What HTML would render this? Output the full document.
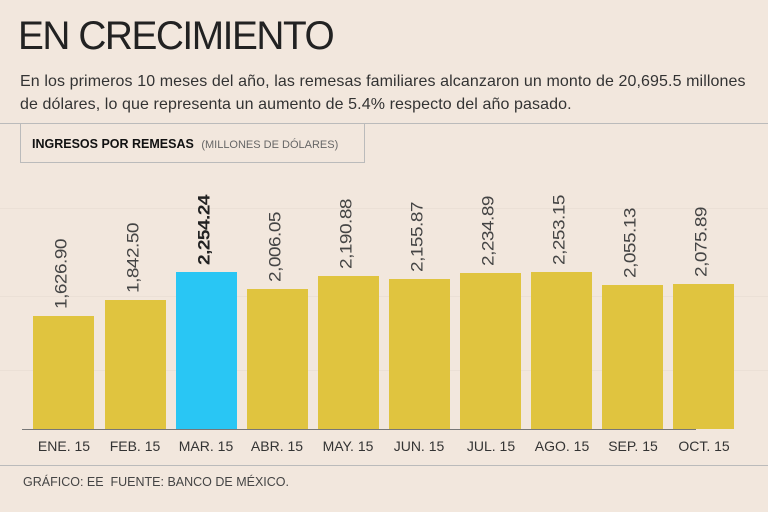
<!DOCTYPE html>
<html><head><meta charset="utf-8"><style>
body{margin:0;width:768px;height:512px;background:#f2e7dd;font-family:"Liberation Sans",sans-serif;overflow:hidden;position:relative}
.t{position:absolute;white-space:nowrap}
.bar{position:absolute;background:#e0c43f;width:61px}
.v{position:absolute;transform:rotate(-90deg) scaleY(0.85);transform-origin:left top;font-size:19px;color:#444;white-space:nowrap;letter-spacing:-0.5px}
.m{position:absolute;top:438px;font-size:14px;color:#333;width:72px;text-align:center}
.g{position:absolute;left:0;width:768px;height:1px;background:#ebe0d6}
</style></head><body>
<div class="t" style="left:18px;top:14px;font-size:40px;color:#222;letter-spacing:-1.5px;transform:scaleX(0.97);transform-origin:left top">EN CRECIMIENTO</div>
<div class="t" style="left:20px;top:70px;font-size:16px;color:#333;line-height:23px;letter-spacing:0.1px">En los primeros 10 meses del año, las remesas familiares alcanzaron un monto de 20,695.5 millones<br>de dólares, lo que representa un aumento de 5.4% respecto del año pasado.</div>
<div style="position:absolute;left:0;top:123px;width:768px;height:1px;background:#bbb"></div>
<div style="position:absolute;left:20px;top:124px;width:345px;height:39px;border:1px solid #bbb;border-top:none;box-sizing:border-box"></div>
<div class="t" style="left:32px;top:137px;font-size:12.5px;font-weight:bold;color:#111">INGRESOS POR REMESAS <span style="font-weight:normal;font-size:11px;color:#666;margin-left:4px">(MILLONES DE DÓLARES)</span></div>
<div class="g" style="top:208px"></div><div class="g" style="top:296px"></div><div class="g" style="top:370px"></div>
<div style="position:absolute;left:22px;top:429px;width:674px;height:1px;background:#777"></div>
<div class="bar" style="left:33px;top:316px;height:113px"></div>
<div class="bar" style="left:105px;top:300px;height:129px"></div>
<div class="bar" style="left:176px;top:272px;height:157px;background:#29c6f4"></div>
<div class="bar" style="left:247px;top:289px;height:140px"></div>
<div class="bar" style="left:318px;top:276px;height:153px"></div>
<div class="bar" style="left:389px;top:279px;height:150px"></div>
<div class="bar" style="left:460px;top:273px;height:156px"></div>
<div class="bar" style="left:531px;top:272px;height:157px"></div>
<div class="bar" style="left:602px;top:285px;height:144px"></div>
<div class="bar" style="left:673px;top:284px;height:145px"></div>
<div class="v" style="left:53px;top:309px">1,626.90</div>
<div class="v" style="left:125px;top:293px">1,842.50</div>
<div class="v" style="left:196px;top:265px;font-weight:bold;color:#222">2,254.24</div>
<div class="v" style="left:267px;top:282px">2,006.05</div>
<div class="v" style="left:338px;top:269px">2,190.88</div>
<div class="v" style="left:409px;top:272px">2,155.87</div>
<div class="v" style="left:480px;top:266px">2,234.89</div>
<div class="v" style="left:551px;top:265px">2,253.15</div>
<div class="v" style="left:622px;top:278px">2,055.13</div>
<div class="v" style="left:693px;top:277px">2,075.89</div>
<div class="m" style="left:28px">ENE. 15</div>
<div class="m" style="left:99px">FEB. 15</div>
<div class="m" style="left:170px">MAR. 15</div>
<div class="m" style="left:241px">ABR. 15</div>
<div class="m" style="left:312px">MAY. 15</div>
<div class="m" style="left:383px">JUN. 15</div>
<div class="m" style="left:455px">JUL. 15</div>
<div class="m" style="left:526px">AGO. 15</div>
<div class="m" style="left:597px">SEP. 15</div>
<div class="m" style="left:668px">OCT. 15</div>
<div style="position:absolute;left:0;top:465px;width:768px;height:1px;background:#bbb"></div>
<div class="t" style="left:23px;top:475px;font-size:12.5px;color:#444">GRÁFICO: EE &nbsp;FUENTE: BANCO DE MÉXICO.</div>
</body></html>
